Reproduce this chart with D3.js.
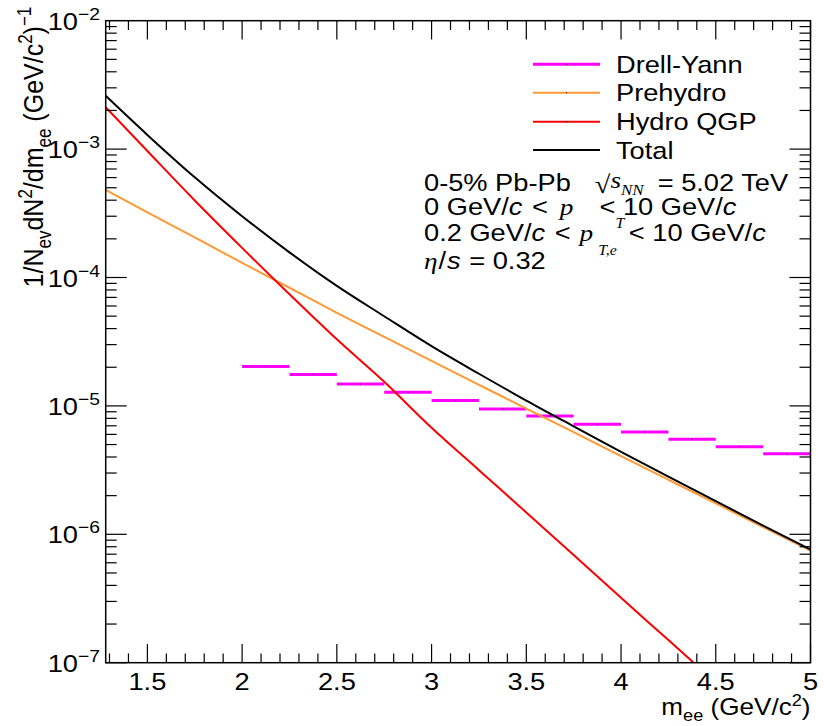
<!DOCTYPE html>
<html>
<head>
<meta charset="utf-8">
<script src="https://cdn.jsdelivr.net/npm/d3@7"></script>
<style>
  body { margin: 0; background: #fff; }
  svg { display: block; }
  text { font-family: "Liberation Sans", Arial, sans-serif; fill: #000; white-space: pre; }
  .serif { font-family: "Liberation Serif", "Times New Roman", serif; font-style: italic; }
  .it { font-style: italic; }
</style>
</head>
<body>
<script>
// ---- data ----
var massGrid = [1.28, 1.5, 1.75, 2.0, 2.25, 2.5, 2.75, 3.0, 3.25, 3.5, 3.75, 4.0, 4.25, 4.5, 4.75, 5.0];
var hydroQGP = [2.12e-3, 9.66e-4, 3.98e-4, 1.70e-4, 7.4e-5, 3.3e-5, 1.54e-5, 6.76e-6, 3.16e-6, 1.48e-6, 6.9e-7, 3.2e-7, 1.5e-7, 7.0e-8, 3.3e-8, 1.6e-8];
var prehydro = [4.81e-4, 3.22e-4, 2.05e-4, 1.30e-4, 8.32e-5, 5.31e-5, 3.45e-5, 2.24e-5, 1.46e-5, 9.53e-6, 6.24e-6, 4.07e-6, 2.66e-6, 1.74e-6, 1.14e-6, 7.45e-7];
var total = [2.60e-3, 1.29e-3, 6.03e-4, 3.00e-4, 1.57e-4, 8.6e-5, 4.99e-5, 2.92e-5, 1.78e-5, 1.10e-5, 6.93e-6, 4.39e-6, 2.81e-6, 1.81e-6, 1.17e-6, 7.6e-7];
var dyEdges = [2.0, 2.25, 2.5, 2.75, 3.0, 3.25, 3.5, 3.75, 4.0, 4.25, 4.5, 4.75, 5.0];
var drellYan = [2.03e-5, 1.76e-5, 1.48e-5, 1.28e-5, 1.10e-5, 9.46e-6, 8.34e-6, 7.19e-6, 6.27e-6, 5.5e-6, 4.81e-6, 4.24e-6];
var xTickLabels = ['1.5', '2', '2.5', '3', '3.5', '4', '4.5', '5'];
var yTickExps = [-2, -3, -4, -5, -6, -7];
var legendNames = ['Drell-Yann', 'Prehydro', 'Hydro QGP', 'Total'];
var legendColors = ['#ff00ff', '#ff9933', '#ff0000', '#000000'];

(function() {
  var W = 824, H = 726;
  var x0 = 105.7, x1 = 810.5, y0 = 20.7, y1 = 662.7;
  var sx = 1.135; // horizontal stretch of the glyphs
  var fs = 24;

  var svg = d3.select('body').append('svg').attr('width', W).attr('height', H);

  var x = d3.scaleLinear().domain([1.28, 5]).range([x0, x1]);
  var y = d3.scaleLog().domain([1e-7, 1e-2]).range([y1, y0]);

  function label(px, py, anchor, rot, size) {
    var t = 'translate(' + px + ',' + py + ') scale(' + sx + ',1)' + (rot ? ' rotate(' + rot + ')' : '');
    return svg.append('text').attr('transform', t).attr('text-anchor', anchor || 'start').style('font-size', (size || fs) + 'px');
  }

  // sequential pieces of a TLatex-like line
  function run(px, py, size, pieces) {
    pieces.forEach(function(p) {
      px += p.gap || 0;
      var t = label(px, py + (p.dy || 0), 'start', 0, p.size || size).text(p.t);
      if (p.cls) t.attr('class', p.cls);
      if (p.cls === 'root') t.attr('class', 'serif').style('font-style', 'normal');
      p.x = px;
      px += t.node().getComputedTextLength() * sx;
    });
    return pieces;
  }

  svg.append('clipPath').attr('id', 'plot').append('rect')
    .attr('x', x0).attr('y', y0).attr('width', x1 - x0).attr('height', y1 - y0);

  var plot = svg.append('g').attr('clip-path', 'url(#plot)');

  var line = d3.line().x(function(d) { return x(d[0]); }).y(function(d) { return y(d[1]); }).curve(d3.curveMonotoneX);

  // Drell-Yan histogram
  var dy = drellYan.map(function(v, i) { return { a: dyEdges[i], b: dyEdges[i + 1], v: v }; });
  plot.selectAll('line.dy').data(dy).enter().append('line')
    .attr('x1', function(d) { return x(d.a); }).attr('x2', function(d) { return x(d.b); })
    .attr('y1', function(d) { return y(d.v); }).attr('y2', function(d) { return y(d.v); })
    .attr('stroke', legendColors[0]).attr('stroke-width', 3);
  plot.selectAll('rect.dot').data(dy).enter().append('rect')
    .attr('x', function(d) { return x((d.a + d.b) / 2) - 0.5; })
    .attr('y', function(d) { return y(d.v) - 0.5; })
    .attr('width', 1).attr('height', 1).attr('fill', '#000');

  var series = [[prehydro, legendColors[1]], [hydroQGP, legendColors[2]], [total, legendColors[3]]];
  series.forEach(function(s) {
    plot.append('path')
      .datum(massGrid.map(function(m, i) { return [m, s[0][i]]; }))
      .attr('d', line).attr('fill', 'none').attr('stroke', s[1]).attr('stroke-width', 2);
  });

  // frame
  svg.append('rect').attr('x', x0).attr('y', y0).attr('width', x1 - x0).attr('height', y1 - y0)
    .attr('fill', 'none').attr('stroke', '#000').attr('stroke-width', 1.5);

  // x ticks
  var xMinor = d3.range(13, 51).map(function(i) { return i / 10; });
  var tk = svg.append('g').attr('stroke', '#000').attr('stroke-width', 1.2);
  xMinor.forEach(function(v) {
    var major = Math.abs(v * 2 - Math.round(v * 2)) < 1e-6;
    var len = major ? 18.7 : 9.3;
    tk.append('line').attr('x1', x(v)).attr('x2', x(v)).attr('y1', y1).attr('y2', y1 - len);
    tk.append('line').attr('x1', x(v)).attr('x2', x(v)).attr('y1', y0).attr('y2', y0 + len);
  });
  xTickLabels.forEach(function(s) {
    label(x(+s), 690, 'middle').text(s);
  });

  // y ticks
  for (var e = -7; e < -2; e++) {
    for (var k = 1; k < 10; k++) {
      var v = k * Math.pow(10, e);
      var len = k === 1 ? 21 : 11;
      tk.append('line').attr('x1', x0).attr('x2', x0 + len).attr('y1', y(v)).attr('y2', y(v));
      tk.append('line').attr('x1', x1).attr('x2', x1 - len).attr('y1', y(v)).attr('y2', y(v));
    }
  }
  yTickExps.forEach(function(p) {
    var t = label(100, y(Math.pow(10, p)) + 9, 'end');
    t.append('tspan').text('10');
    t.append('tspan').attr('dy', -10).style('font-size', '17px').text('\u2212' + (-p));
  });

  // axis titles
  var xt = label(x1, 715, 'end', 0, 23);
  xt.append('tspan').text('m');
  xt.append('tspan').attr('dy', 6).style('font-size', '16px').text('ee');
  xt.append('tspan').attr('dy', -6).text(' (GeV/c');
  xt.append('tspan').attr('dy', -9).style('font-size', '16px').text('2');
  xt.append('tspan').attr('dy', 9).text(')');

  var yt = label(43, y0 - 14, 'end', -90, 25);
  yt.append('tspan').text('1/N');
  yt.append('tspan').attr('dy', 7).style('font-size', '17px').text('ev');
  yt.append('tspan').attr('dy', -7).text('dN');
  yt.append('tspan').attr('dy', -10).style('font-size', '17px').text('2');
  yt.append('tspan').attr('dy', 10).text('/dm');
  yt.append('tspan').attr('dy', 7).style('font-size', '17px').text('ee');
  yt.append('tspan').attr('dy', -7).text(' (GeV/c');
  yt.append('tspan').attr('dy', -10).style('font-size', '17px').text('2');
  yt.append('tspan').attr('dy', 10).text(')');
  yt.append('tspan').attr('dy', -11).style('font-size', '17px').text('\u22121');

  // legend
  var legY = [64.3, 92.7, 121.7, 150];
  legendNames.forEach(function(n, i) {
    svg.append('line').attr('x1', 533).attr('x2', 600).attr('y1', legY[i]).attr('y2', legY[i])
      .attr('stroke', legendColors[i]).attr('stroke-width', i === 0 ? 3 : 2);
    if (i < 3) svg.append('rect').attr('x', 566).attr('y', legY[i] - 0.5).attr('width', 1).attr('height', 1).attr('fill', '#000');
    label(616, legY[i] + 8.5, 'start').text(n);
  });

  // annotation block
  var ax = 424, af = 24;
  run(ax, 190.5, af, [
    { t: '0-5% Pb-Pb' },
    { t: '\u221A', cls: 'root', size: 25, gap: 24, dy: 2 },
    { t: 's', cls: 'serif', dy: -3 },
    { t: 'NN', cls: 'serif', size: 15, dy: 4 },
    { t: '= 5.02 TeV', gap: 14 }
  ]);

  var l2 = run(ax, 214.5, af, [
    { t: '0 GeV/' }, { t: 'c', cls: 'it' }, { t: ' <', gap: 2 },
    { t: 'p', cls: 'serif', gap: 12 },
    { t: '< 10 GeV/', gap: 26 }, { t: 'c', cls: 'it' }
  ]);
  label(l2[4].x + 16, 228, 'start', 0, 14).attr('class', 'serif').text('T');

  run(ax, 240.5, af, [
    { t: '0.2 GeV/' }, { t: 'c', cls: 'it' }, { t: ' <', gap: 2 },
    { t: 'p', cls: 'serif', gap: 9 },
    { t: 'T,e', cls: 'serif', size: 14, gap: 5, dy: 14 },
    { t: '< 10 GeV/', gap: 12 }, { t: 'c', cls: 'it' }
  ]);

  run(ax, 269, af, [
    { t: '\u03B7', cls: 'serif' }, { t: '/', gap: 1 }, { t: 's', cls: 'it', gap: 1 }, { t: ' = 0.32', gap: 1 }
  ]);
})();
</script>
</body>
</html>
